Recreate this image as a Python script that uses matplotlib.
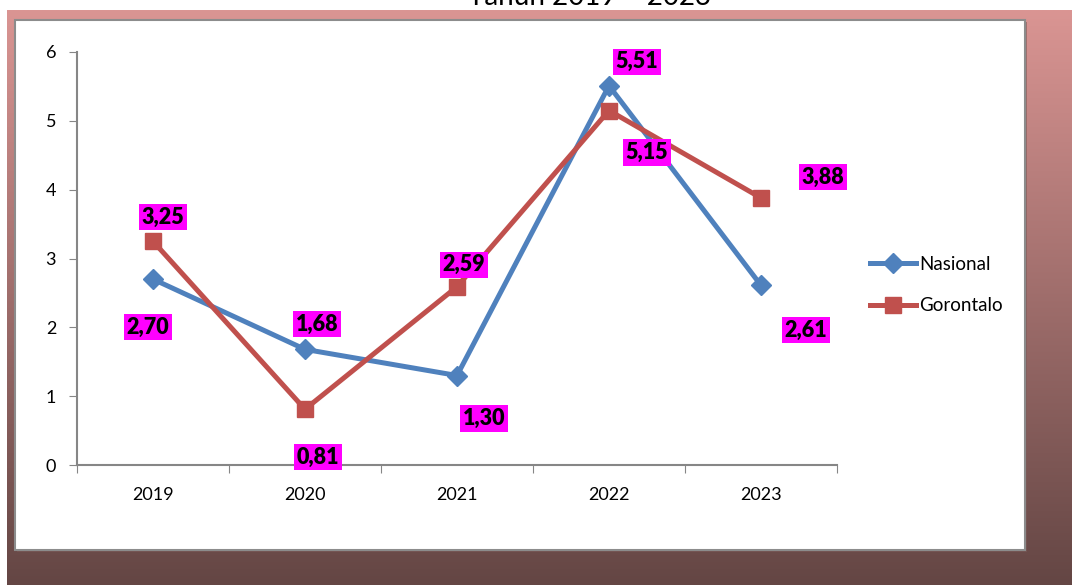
import matplotlib
matplotlib.use("Agg")
import matplotlib.pyplot as plt
import numpy as np
from matplotlib.patches import Rectangle

plt.rcParams['font.family'] = ['Lato', 'DejaVu Sans']

years = ['2019', '2020', '2021', '2022', '2023']
nasional = [2.70, 1.68, 1.30, 5.51, 2.61]
gorontalo = [3.25, 0.81, 2.59, 5.15, 3.88]
nasional_labels = ['2,70', '1,68', '1,30', '5,51', '2,61']
gorontalo_labels = ['3,25', '0,81', '2,59', '5,15', '3,88']
title = 'Tahun 2019 – 2023'

W, H = 1072, 585
fig = plt.figure(figsize=(W / 100, H / 100), dpi=100)

# background in pixel coordinates
bg = fig.add_axes([0, 0, 1, 1])
bg.set_xlim(0, W)
bg.set_ylim(H, 0)
bg.axis('off')
bg.text(590, 5, title, ha='center', va='baseline', fontsize=20, color='black', zorder=0.5)
top = np.array([218, 149, 147]) / 255
bot = np.array([100, 70, 68]) / 255
t = np.linspace(0, 1, 256)[:, None]
grad = top[None, :] * (1 - t) + bot[None, :] * t
grad = np.repeat(grad[:, None, :], 2, axis=1)
bg.imshow(grad, extent=(7, W, H, 10), aspect='auto', zorder=1)
bg.add_patch(Rectangle((17, 22), 1010, 530, facecolor='#7a5a58', edgecolor='none', zorder=1.5, alpha=0.6))
bg.add_patch(Rectangle((15, 20), 1010, 530, facecolor='white', edgecolor='#8c8c8c', linewidth=1.5, zorder=2))

# chart axes: x 77..837, y 52..465
ax = fig.add_axes([77 / W, 1 - 465 / H, (837 - 77) / W, (465 - 52) / H])
ax.set_facecolor('none')
x = np.arange(len(years))
ax.plot(x, nasional, color='#4F81BD', linewidth=3.6, marker='D', markersize=10.5,
        label='Nasional', zorder=3)
ax.plot(x, gorontalo, color='#C0504D', linewidth=3.6, marker='s', markersize=12,
        label='Gorontalo', zorder=4)

ax.set_xlim(-0.5, len(years) - 0.5)
ax.set_ylim(0, 6)
ax.set_yticks(range(0, 7))
ax.set_yticklabels([str(i) for i in range(0, 7)])
ax.set_xticks(np.arange(-0.5, len(years), 1.0))
ax.set_xticklabels([])
ax.set_xticks(x, minor=True)
ax.set_xticklabels(years, minor=True)
ax.tick_params(axis='x', which='major', length=6, color='#868686', direction='out')
ax.tick_params(axis='x', which='minor', length=0, pad=16, labelsize=13)
ax.tick_params(axis='y', length=6, color='#868686', direction='out', pad=9, labelsize=13)
for s in ['top', 'right']:
    ax.spines[s].set_visible(False)
for s in ['left', 'bottom']:
    ax.spines[s].set_color('#868686')
    ax.spines[s].set_linewidth(1.5)

box = dict(boxstyle='square,pad=0.12', facecolor='#FF00FF', edgecolor='none')
# offsets in pixels (dx, dy with y up)
n_off = [(-5, -48), (12, 25), (27, -43), (28, 24), (45, -45)]
g_off = [(10, 24), (13, -48), (7, 22), (38, -42), (62, 21)]
for xi, v, lab, (dx, dy) in zip(x, nasional, nasional_labels, n_off):
    ax.annotate(lab, (xi, v), xytext=(dx * 0.72, dy * 0.72), textcoords='offset points',
                ha='center', va='center', fontsize=15.5, fontweight='heavy', bbox=box, zorder=5)
for xi, v, lab, (dx, dy) in zip(x, gorontalo, gorontalo_labels, g_off):
    ax.annotate(lab, (xi, v), xytext=(dx * 0.72, dy * 0.72), textcoords='offset points',
                ha='center', va='center', fontsize=15.5, fontweight='heavy', bbox=box, zorder=5)

leg = ax.legend(loc='center left', bbox_to_anchor=(862 / W, 1 - 285 / H),
                bbox_transform=fig.transFigure, frameon=False, fontsize=13.5,
                handlelength=2.5, handletextpad=0.15, labelspacing=1.3, borderaxespad=0)

fig.savefig('out.png', dpi=100)
